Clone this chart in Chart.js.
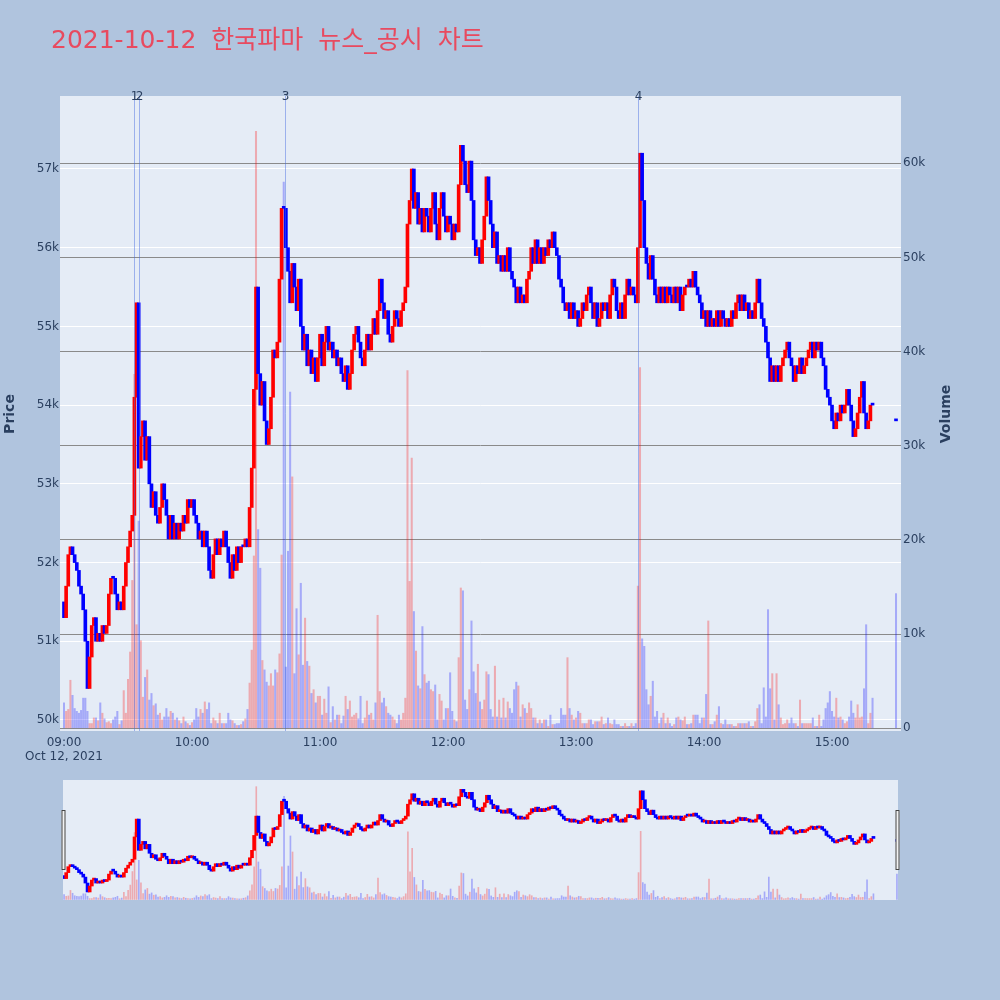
<!DOCTYPE html>
<html>
<head>
<meta charset="utf-8">
<script src="https://cdn.jsdelivr.net/npm/chart.js@4.4.1/dist/chart.umd.min.js"></script>
<style>
  html, body { margin: 0; padding: 0; background: #b0c4de; }
  #wrap { position: relative; width: 1000px; height: 1000px; }
  #main, #slider { position: absolute; left: 0; }
  #main { top: 0; }
  #slider { top: 770px; }
</style>
</head>
<body>
<div id="wrap">
  <canvas id="main" width="1000" height="1000"></canvas>
  <canvas id="slider" width="1000" height="140"></canvas>
</div>
<script>
const chartTitle = "2021-10-12 한국파마 뉴스_공시 차트";
const dateLabel = "Oct 12, 2021";

// 1-minute closes 09:00 ~ 15:19, in units of 100 won
const firstOpen = 515;
const closes = [
  513,517,521,522,521,520,519,517,516,514,
  510,504,508,512,513,510,511,510,512,511,
  512,516,518,518,516,514,515,514,517,520,
  522,524,526,541,553,532,536,538,533,536,
  530,527,529,526,525,527,530,528,526,523,
  526,523,525,523,525,524,526,525,528,527,
  528,526,525,523,524,522,524,522,519,518,
  521,523,521,523,522,524,522,520,518,521,
  519,522,520,522,522,523,522,527,532,542,
  555,544,540,543,538,535,537,541,547,546,
  548,556,565,565,560,557,553,558,555,552,
  556,550,547,549,545,547,544,546,543,546,
  549,545,548,550,547,548,546,547,545,546,
  544,543,545,542,544,547,549,550,548,546,
  545,547,549,547,549,551,549,552,556,553,
  551,552,549,548,550,552,551,550,552,553,
  555,563,566,570,565,567,563,565,562,565,
  564,562,565,567,563,561,565,567,564,562,
  564,563,561,563,562,568,573,571,568,567,
  571,566,561,559,560,558,561,564,569,566,
  563,560,562,558,559,557,559,557,560,557,
  556,555,553,555,553,554,553,556,557,560,
  558,561,558,560,558,560,559,561,560,562,
  560,559,556,555,553,552,553,551,553,551,
  552,550,551,553,552,554,555,553,551,553,
  550,551,553,552,553,551,554,556,555,552,
  551,553,551,554,556,554,555,554,553,560,
  572,566,560,558,556,559,556,554,553,555,
  553,555,553,555,554,553,555,553,555,552,
  554,555,555,556,555,557,555,554,553,551,
  552,550,552,550,551,550,552,550,552,551,
  550,551,550,552,551,553,554,552,554,552,
  553,551,552,551,553,556,553,551,550,548,
  546,543,545,543,545,543,545,546,547,548,
  546,545,543,545,544,546,544,545,546,547,
  548,546,548,547,548,546,545,542,541,540,
  538,537,539,538,540,539,540,542,540,538,
  536,537,539,541,543,539,537,538,540,540
];

// 1-minute volume, in units of 100 shares
const volumes = [
  27,18,20,51,35,21,18,16,19,32,
  32,18,5,5,11,11,8,27,16,10,
  6,7,5,9,12,18,4,8,40,16,
  52,81,157,376,110,220,93,33,54,62,
  30,37,24,26,14,16,9,12,21,12,
  18,16,9,11,8,5,12,7,5,3,
  6,9,21,12,20,16,28,20,27,5,
  11,8,5,16,5,5,5,16,9,8,
  5,3,3,4,7,10,20,48,83,183,
  634,211,170,72,62,49,45,58,45,62,
  59,79,184,580,65,188,357,267,58,127,
  78,154,67,117,71,66,37,41,27,34,
  34,14,31,16,44,6,23,9,14,14,
  5,13,34,20,29,12,14,16,10,34,
  5,11,29,14,16,9,27,120,39,27,
  32,23,16,14,12,9,5,14,9,16,
  32,380,156,287,124,82,45,42,108,57,
  48,50,41,39,46,9,36,29,9,21,
  21,59,18,9,7,75,149,146,30,20,
  41,114,60,37,68,28,20,30,60,57,
  20,12,66,12,30,11,32,11,28,21,
  16,41,49,45,12,25,21,16,27,21,
  11,11,5,9,5,9,9,2,14,4,
  4,5,5,21,14,14,75,21,14,9,
  11,18,16,5,5,5,9,9,4,7,
  7,7,12,4,5,11,5,4,9,4,
  4,2,2,5,2,2,5,2,5,151,
  383,95,87,41,25,34,50,12,18,5,
  11,16,5,11,5,2,4,11,12,9,
  8,12,4,4,5,14,14,14,5,11,
  11,36,114,4,4,7,14,23,5,4,
  9,4,4,4,2,2,5,5,5,5,
  5,7,2,2,7,21,25,5,43,12,
  126,42,58,9,58,25,11,4,5,9,
  5,11,5,5,2,30,5,5,5,5,
  5,11,2,2,14,2,9,21,27,39,
  18,12,32,11,12,9,5,7,12,29,
  16,11,25,11,12,42,110,5,16,32
];

// closing auction
const closingTime = "15:30";
const closingOpen = 538;
const closingClose = 538;
const closingVolume = 143;

// news / disclosure markers
const newsTimes = ["09:32:49", "09:35:18", "10:43:36", "13:29:04"];
const newsLabels = ["1", "2", "3", "4"];

const timeTicks = ["09:00", "10:00", "11:00", "12:00", "13:00", "14:00", "15:00"];
const priceTicks = [50000, 51000, 52000, 53000, 54000, 55000, 56000, 57000];
const volumeTicks = [0, 10000, 20000, 30000, 40000, 50000, 60000];

const RED = "#ff0000", BLUE = "#0000ff";
const RED_VOL = "rgba(255,0,0,0.28)", BLUE_VOL = "rgba(0,0,255,0.28)";
const TEXT = "#2a3f5f";
const FONT = "'DejaVu Sans', 'Noto Sans CJK KR', sans-serif";

Chart.defaults.font.family = FONT;
Chart.defaults.font.size = 12;
Chart.defaults.color = TEXT;

function toMinutes(hms) {
  const p = hms.split(":").map(Number);
  return (p[0] - 9) * 60 + p[1] + (p[2] || 0) / 60;
}

function buildSeries() {
  const candles = [], vols = [], candleColors = [], volColors = [];
  function add(t, o, c, v) {
    const up = c > o;
    candles.push({ x: t, y: [o * 100, c * 100] });
    vols.push({ x: t, y: v * 100 });
    candleColors.push(up ? RED : BLUE);
    volColors.push(up ? RED_VOL : BLUE_VOL);
  }
  closes.forEach((c, i) => add(i, i === 0 ? firstOpen : closes[i - 1], c, volumes[i]));
  add(toMinutes(closingTime), closingOpen, closingClose, closingVolume);
  return { candles, vols, candleColors, volColors };
}

const plotBg = {
  id: "plotBg",
  beforeDraw(chart) {
    const { ctx, chartArea: a } = chart;
    ctx.save();
    ctx.fillStyle = "#e5ecf6";
    ctx.fillRect(a.left, a.top, a.right - a.left, a.bottom - a.top);
    ctx.restore();
  }
};

const newsMarkers = {
  id: "newsMarkers",
  afterDatasetsDraw(chart) {
    const { ctx, chartArea: a } = chart;
    const xs = chart.scales.x;
    ctx.save();
    ctx.strokeStyle = "rgba(65,105,225,0.45)";
    ctx.lineWidth = 1;
    ctx.fillStyle = TEXT;
    ctx.font = "12px " + FONT;
    ctx.textAlign = "center";
    ctx.textBaseline = "middle";
    newsTimes.forEach((t, i) => {
      const x = Math.round(xs.getPixelForValue(toMinutes(t))) + 0.5;
      ctx.beginPath();
      ctx.moveTo(x, a.top);
      ctx.lineTo(x, a.bottom);
      ctx.stroke();
      ctx.fillText(newsLabels[i], x, a.top + 1);
    });
    ctx.restore();
  }
};

const labels = {
  id: "labels",
  afterDraw(chart) {
    const { ctx } = chart;
    const xs = chart.scales.x;
    ctx.save();
    ctx.fillStyle = "#e84a5f";
    ctx.font = "25px " + FONT;
    ctx.textAlign = "left";
    ctx.textBaseline = "middle";
    let tx = 51;
    chartTitle.split(" ").forEach(word => {
      ctx.fillText(word, tx, 41);
      tx += ctx.measureText(word).width + 15;
    });

    ctx.fillStyle = TEXT;
    ctx.font = "12px " + FONT;
    ctx.textAlign = "center";
    ctx.fillText(dateLabel, xs.getPixelForValue(0), 757);

    ctx.font = "bold 14px " + FONT;
    ctx.translate(10, 414);
    ctx.rotate(-Math.PI / 2);
    ctx.fillText("Price", 0, 0);
    ctx.restore();

    ctx.save();
    ctx.fillStyle = TEXT;
    ctx.font = "bold 14px " + FONT;
    ctx.textAlign = "center";
    ctx.textBaseline = "middle";
    ctx.translate(946, 414);
    ctx.rotate(-Math.PI / 2);
    ctx.fillText("Volume", 0, 0);
    ctx.restore();
  }
};

const main = buildSeries();
new Chart(document.getElementById("main"), {
  type: "bar",
  data: {
    datasets: [
      { label: "Volume", data: main.vols, yAxisID: "y1", backgroundColor: main.volColors,
        barThickness: 1.4, grouped: false, order: 2 },
      { label: "Price", data: main.candles, yAxisID: "y", backgroundColor: main.candleColors,
        barThickness: 3, minBarLength: 2, grouped: false, order: 1 }
    ]
  },
  options: {
    responsive: false,
    animation: false,
    layout: { padding: { top: 96, bottom: 229, left: 0, right: 0 } },
    plugins: { legend: { display: false }, tooltip: { enabled: false } },
    scales: {
      x: {
        type: "linear", min: -1.875, max: 392.34, offset: false,
        grid: { display: false }, border: { display: false },
        afterBuildTicks: s => { s.ticks = timeTicks.map(t => ({ value: toMinutes(t) })); },
        ticks: { autoSkip: false, maxRotation: 0, padding: -3, callback: (v, i) => timeTicks[i] },
        afterFit: s => { s.height = 40; }
      },
      y: {
        position: "left", min: 49860, max: 57927,
        grid: { color: "#ffffff", lineWidth: 1, drawTicks: false }, border: { display: false },
        afterBuildTicks: s => { s.ticks = priceTicks.map(v => ({ value: v })); },
        ticks: { padding: 1, callback: v => (v / 1000) + "k" },
        afterFit: s => { s.width = 60; }
      },
      y1: {
        position: "right", min: -290, max: 67150,
        grid: { color: "#8a8a8a", lineWidth: 1, drawTicks: false }, border: { display: false },
        afterBuildTicks: s => { s.ticks = volumeTicks.map(v => ({ value: v })); },
        ticks: { padding: 2, callback: v => v === 0 ? "0" : (v / 1000) + "k" },
        afterFit: s => { s.width = 99; }
      }
    }
  },
  plugins: [plotBg, newsMarkers, labels]
});

const sliderHandles = {
  id: "sliderHandles",
  afterDraw(chart) {
    const { ctx, chartArea: a } = chart;
    ctx.save();
    ctx.fillStyle = "#f2f2f2";
    ctx.strokeStyle = "#444";
    ctx.lineWidth = 1;
    [a.left - 1.5, a.right - 2.5].forEach(x => {
      ctx.fillRect(x, a.top + 30, 4, 60);
      ctx.strokeRect(x + 0.5, a.top + 30.5, 3, 59);
    });
    ctx.restore();
  }
};

const mini = buildSeries();
new Chart(document.getElementById("slider"), {
  type: "bar",
  data: {
    datasets: [
      { label: "Volume", data: mini.vols, yAxisID: "y1", backgroundColor: mini.volColors,
        barThickness: 1, grouped: false, order: 2 },
      { label: "Price", data: mini.candles, yAxisID: "y", backgroundColor: mini.candleColors,
        barThickness: 3, minBarLength: 2, grouped: false, order: 1 }
    ]
  },
  options: {
    responsive: false,
    animation: false,
    layout: { padding: { top: 10, bottom: 10, left: 63, right: 102 } },
    plugins: { legend: { display: false }, tooltip: { enabled: false } },
    scales: {
      x: { type: "linear", display: false, min: -0.5, max: 390.5, offset: false },
      y: { display: false, min: 49860, max: 57927 },
      y1: { display: false, min: -290, max: 67150 }
    }
  },
  plugins: [plotBg, sliderHandles]
});
</script>
</body>
</html>
